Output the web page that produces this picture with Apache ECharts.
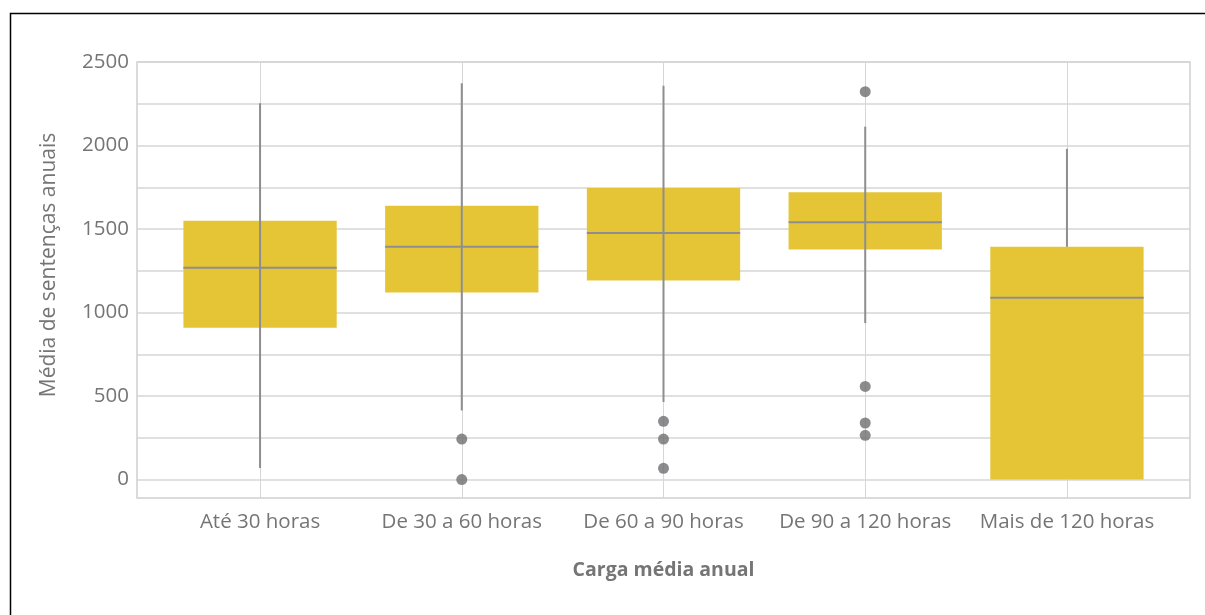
<!DOCTYPE html>
<html>
<head>
<meta charset="utf-8">
<script src="https://cdn.jsdelivr.net/npm/echarts@6/dist/echarts.min.js"></script>
<style>
html,body{margin:0;padding:0;background:#fff;}
#chart{width:1205px;height:615px;}
</style>
</head>
<body>
<div id="chart"></div>
<script>
const categories = ['Até 30 horas', 'De 30 a 60 horas', 'De 60 a 90 horas', 'De 90 a 120 horas', 'Mais de 120 horas'];
const whiskerLow  = [70, 414, 465, 937, 0];
const quartile1   = [909, 1120, 1192, 1377, 0];
const medians     = [1268, 1394, 1477, 1541, 1089];
const quartile3   = [1549, 1639, 1746, 1721, 1394];
const whiskerHigh = [2253, 2373, 2358, 2113, 1980];
const whiskerThroughBox = [true, true, true, true, false];
const outliers = [
  [1, 243], [1, 0],
  [2, 349], [2, 243], [2, 68],
  [3, 2322], [3, 558], [3, 339], [3, 265]
];
const yTickValues  = [0, 250, 500, 750, 1000, 1250, 1500, 1750, 2000, 2250, 2500];
const yLabelValues = [0, 500, 1000, 1500, 2000, 2500];
const xTickValues  = [0, 1, 2, 3, 4];

const boxData = categories.map((c, i) => [i, whiskerLow[i], quartile1[i], medians[i], quartile3[i], whiskerHigh[i], whiskerThroughBox[i] ? 1 : 0]);

const textColor = '#757575';
const lineGray = '#8E8E90';
const boxColor = '#E5C536';
const halfWidth = 0.38;

const chart = echarts.init(document.getElementById('chart'));
chart.setOption({
  animation: false,
  backgroundColor: '#fff',
  grid: { left: 137, right: 15, top: 62, bottom: 117, show: true, borderColor: '#D0D0D0', borderWidth: 1.5, containLabel: false },
  xAxis: {
    type: 'value', min: -0.61, max: 4.61,
    name: 'Carga média anual', nameLocation: 'middle', nameGap: 62,
    nameTextStyle: { color: textColor, fontSize: 19.5, fontWeight: 'bold', fontFamily: 'Open Sans' },
    axisLine: { show: false },
    axisTick: { show: false, customValues: xTickValues },
    axisLabel: { customValues: xTickValues, color: textColor, fontSize: 20.5, fontFamily: 'Open Sans', margin: 14,
      formatter: v => categories[Math.round(v)] },
    splitLine: { show: true, lineStyle: { color: '#D6D6D6', width: 1 } }
  },
  yAxis: {
    type: 'value', min: -110, max: 2500,
    name: 'Média de sentenças anuais', nameLocation: 'middle', nameGap: 77, nameRotate: 90,
    nameTextStyle: { color: textColor, fontSize: 21, fontFamily: 'Open Sans', padding: [0, 0, 0, 30] },
    axisLine: { show: false },
    axisTick: { show: false, customValues: yTickValues },
    axisLabel: { customValues: yLabelValues, color: textColor, fontSize: 20.5, fontFamily: 'Open Sans', margin: 8,
      formatter: v => String(v) },
    splitLine: { show: true, lineStyle: { color: '#D6D6D6', width: 1.5 } }
  },
  series: [
    {
      type: 'custom',
      data: boxData,
      encode: { x: 0, y: [1, 2, 3, 4, 5] },
      renderItem: function (params, api) {
        const x = api.value(0);
        const lo = api.value(1), q1 = api.value(2), md = api.value(3), q3 = api.value(4), hi = api.value(5);
        const through = api.value(6) === 1;
        const pLo = api.coord([x, lo]), pHi = api.coord([x, hi]);
        const pQ1 = api.coord([x, q1]), pQ3 = api.coord([x, q3]);
        const tl = api.coord([x - halfWidth, q3]);
        const br = api.coord([x + halfWidth, q1]);
        const ml = api.coord([x - halfWidth, md]);
        const mr = api.coord([x + halfWidth, md]);
        const ls = { stroke: lineGray, lineWidth: 2 };
        const children = [];
        children.push({ type: 'rect', shape: { x: tl[0], y: tl[1], width: br[0] - tl[0], height: br[1] - tl[1] }, style: { fill: boxColor } });
        if (through) {
          children.push({ type: 'line', shape: { x1: pLo[0], y1: pLo[1], x2: pHi[0], y2: pHi[1] }, style: ls });
        } else {
          children.push({ type: 'line', shape: { x1: pQ3[0], y1: pQ3[1], x2: pHi[0], y2: pHi[1] }, style: ls });
          children.push({ type: 'line', shape: { x1: pLo[0], y1: pLo[1], x2: pQ1[0], y2: pQ1[1] }, style: ls });
        }
        children.push({ type: 'line', shape: { x1: ml[0], y1: ml[1], x2: mr[0], y2: mr[1] }, style: ls });
        return { type: 'group', children: children };
      },
      z: 2
    },
    {
      type: 'scatter',
      data: outliers,
      symbol: 'circle',
      symbolSize: 11,
      itemStyle: { color: '#6F6F72' },
      z: 3
    }
  ],
  graphic: [
    { type: 'rect', left: 8, top: 11, shape: { width: 1220, height: 640 }, style: { fill: null, stroke: '#000', lineWidth: 1.5 }, silent: true }
  ]
});
</script>
</body>
</html>
